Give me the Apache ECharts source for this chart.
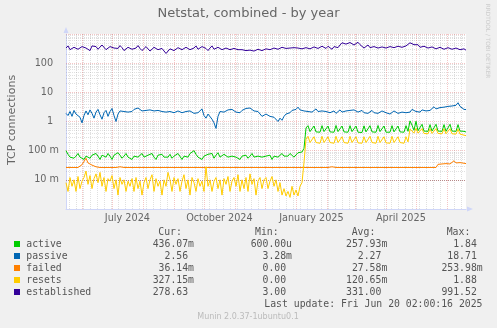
<!DOCTYPE html>
<html>
<head>
<meta charset="utf-8">
<script src="https://cdn.jsdelivr.net/npm/echarts@6/dist/echarts.min.js"></script>
<style>
  html, body { margin: 0; padding: 0; background: #F0F0F0; }
  #chart { width: 497px; height: 328px; }
</style>
</head>
<body>
<div id="chart"></div>
<script>
// Netstat, combined - yearly view, two-day samples from 2024-05-16 to 2025-06-20

const seriesNames = ['active', 'passive', 'failed', 'resets', 'established'];
const seriesColors = ['#00CC00', '#0066B3', '#FF8000', '#FFCC00', '#330099'];

const active = [
  0.1, 0.075, 0.06, 0.07, 0.055, 0.065, 0.08, 0.06, 0.07, 0.05,
  0.065, 0.075, 0.055, 0.07, 0.06, 0.08, 0.065, 0.05, 0.07, 0.075,
  0.06, 0.08, 0.065, 0.05, 0.07, 0.06, 0.085, 0.07, 0.055, 0.065,
  0.08, 0.06, 0.07, 0.05, 0.065, 0.075, 0.06, 0.07, 0.08, 0.06,
  0.055, 0.07, 0.065, 0.08, 0.06, 0.05, 0.07, 0.065, 0.075, 0.06,
  0.07, 0.06, 0.075, 0.055, 0.065, 0.06, 0.08, 0.07, 0.05, 0.065,
  0.07, 0.06, 0.08, 0.085, 0.1, 0.075, 0.06, 0.07, 0.05, 0.065,
  0.06, 0.075, 0.065, 0.08, 0.055, 0.07, 0.085, 0.06, 0.065, 0.075,
  0.07, 0.06, 0.055, 0.065, 0.075, 0.06, 0.07, 0.05, 0.065, 0.06,
  0.07, 0.055, 0.065, 0.08, 0.06, 0.07, 0.065, 0.075, 0.06, 0.065,
  0.065, 0.06, 0.07, 0.05, 0.065, 0.075, 0.06, 0.07, 0.08, 0.065,
  0.07, 0.065, 0.08, 0.075, 0.06, 0.07, 0.085, 0.075, 0.09, 0.12,
  0.6, 0.72, 0.45, 0.42, 0.7, 0.44, 0.41, 0.43, 0.72, 0.45,
  0.42, 0.7, 0.44, 0.41, 0.43, 0.73, 0.45, 0.42, 0.7, 0.44,
  0.41, 0.43, 0.72, 0.45, 0.42, 0.7, 0.43, 0.41, 0.42, 0.71,
  0.44, 0.42, 0.72, 0.44, 0.41, 0.43, 0.73, 0.45, 0.42, 0.7,
  0.43, 0.41, 0.43, 0.72, 0.44, 0.42, 0.7, 0.44, 0.41, 0.43,
  0.72, 0.46, 1.05, 0.75, 0.5, 1.02, 0.48, 0.46, 0.8, 0.47,
  0.45, 0.46, 0.78, 0.47, 0.45, 0.8, 0.47, 0.45, 0.46, 0.78,
  0.46, 0.45, 0.8, 0.47, 0.45, 0.46, 0.78, 0.47, 0.45, 0.46, 0.436
];

const passive = [
  1.9, 1.6, 2.2, 1.5, 2.4, 1.8, 2.1, 1.4, 0.9, 1.6,
  2.3, 1.7, 2.5, 1.9, 1.3, 2.1, 2.6, 1.7, 1.2, 2.0,
  2.4, 1.5, 2.2, 2.8, 1.6, 1.0, 1.8, 2.3, 2.0, 2.2,
  1.9, 2.1, 2.4, 2.2, 2.6, 2.3, 2.9, 2.5, 2.3, 2.6,
  2.4, 2.2, 2.5, 2.7, 2.3, 2.1, 2.4, 2.6, 2.2, 2.0,
  2.1, 1.9, 2.2, 2.3, 2.0, 2.1, 2.3, 2.2, 2.0, 2.1,
  2.2, 2.0, 2.3, 2.1, 1.9, 2.2, 2.0, 2.1, 2.7, 1.6,
  1.3, 1.8, 1.6, 1.2, 0.9, 0.58, 1.5, 2.2, 2.4, 2.1,
  2.3, 2.5, 2.2, 2.6, 2.4, 2.1, 2.3, 2.0, 2.4, 2.7,
  2.8, 2.5, 2.9, 2.6, 2.3, 2.6, 2.2, 2.0, 1.5, 1.7,
  1.8, 1.6, 1.5, 1.7, 1.4, 1.2, 1.0, 1.3, 1.1, 1.5,
  1.8, 2.1, 2.0, 2.4, 2.2, 2.6, 3.1, 2.5, 2.9, 2.3,
  2.6, 2.2, 2.5, 2.1, 2.3, 2.7, 2.2, 2.0, 2.3, 2.1,
  2.2, 2.4, 2.0, 2.1, 2.3, 1.9, 2.2, 2.5, 2.1, 2.0,
  2.3, 2.1, 2.4, 2.2, 2.5, 2.3, 2.1, 2.2, 2.4, 2.0,
  2.3, 1.9, 2.1, 2.4, 2.0, 2.2, 1.9, 2.0, 2.3, 2.1,
  2.0, 2.2, 1.8, 2.1, 2.3, 2.0, 1.9, 2.2, 2.1, 1.9,
  2.0, 2.3, 2.1, 2.6, 2.9, 2.2, 2.4, 2.1, 2.5, 2.2,
  2.3, 2.6, 2.4, 2.8, 3.2, 2.7, 2.5, 3.0, 2.6, 3.1,
  2.8, 3.3, 2.9, 3.4, 3.0, 3.6, 4.4, 3.3, 2.9, 2.6, 2.56
];

const failed = [
  0.0265, 0.0265, 0.0265, 0.0265, 0.0265, 0.0265, 0.0265, 0.03, 0.033, 0.035,
  0.055, 0.038, 0.04, 0.032, 0.036, 0.028, 0.0265, 0.0265, 0.0265, 0.0265,
  0.0265, 0.0265, 0.0265, 0.0265, 0.0265, 0.0265, 0.0265, 0.028, 0.0265, 0.0265,
  0.0265, 0.0265, 0.0265, 0.0265, 0.0265, 0.0265, 0.0265, 0.0265, 0.0265, 0.0265,
  0.0265, 0.0265, 0.0265, 0.0265, 0.0265, 0.0265, 0.028, 0.0265, 0.0265, 0.0265,
  0.0265, 0.0265, 0.0265, 0.0265, 0.0265, 0.0265, 0.0265, 0.0265, 0.0265, 0.0265,
  0.029, 0.0265, 0.0265, 0.0265, 0.0265, 0.0265, 0.0265, 0.0265, 0.0265, 0.0265,
  0.0265, 0.0265, 0.0265, 0.0265, 0.0265, 0.0265, 0.0265, 0.0265, 0.0265, 0.0265,
  0.0265, 0.0265, 0.0265, 0.0265, 0.0265, 0.0265, 0.0265, 0.0265, 0.0265, 0.0265,
  0.0265, 0.0265, 0.0265, 0.0265, 0.0265, 0.0265, 0.0265, 0.0265, 0.0265, 0.0265,
  0.0265, 0.0265, 0.0265, 0.0265, 0.028, 0.0265, 0.0265, 0.0265, 0.0265, 0.0265,
  0.0265, 0.0265, 0.0265, 0.0265, 0.0265, 0.0265, 0.0265, 0.0265, 0.0265, 0.0265,
  0.0265, 0.0265, 0.0265, 0.0265, 0.0265, 0.0265, 0.0265, 0.0265, 0.0265, 0.0265,
  0.0265, 0.0265, 0.0265, 0.028, 0.0265, 0.0265, 0.0265, 0.0265, 0.0265, 0.0265,
  0.0265, 0.0265, 0.0265, 0.0265, 0.0265, 0.0265, 0.0265, 0.0265, 0.0265, 0.0265,
  0.0265, 0.0265, 0.0265, 0.0265, 0.0265, 0.0265, 0.0265, 0.0265, 0.0265, 0.0265,
  0.0265, 0.0265, 0.0265, 0.0265, 0.0265, 0.0265, 0.0265, 0.0265, 0.0265, 0.0265,
  0.0265, 0.0265, 0.0265, 0.0265, 0.0265, 0.0265, 0.0265, 0.0265, 0.0265, 0.0265,
  0.0265, 0.0265, 0.0265, 0.0265, 0.0265, 0.0265, 0.034, 0.036, 0.035, 0.037,
  0.036, 0.038, 0.035, 0.037, 0.045, 0.038, 0.036, 0.039, 0.035, 0.037, 0.036
];

const resets = [
  0.008, 0.004, 0.012, 0.006, 0.01, 0.004, 0.013, 0.005, 0.009, 0.012,
  0.02, 0.007, 0.014, 0.005, 0.011, 0.016, 0.008, 0.018, 0.006, 0.012,
  0.004, 0.011, 0.009, 0.014, 0.005, 0.01, 0.003, 0.012, 0.007, 0.01,
  0.004, 0.009, 0.006, 0.011, 0.004, 0.012, 0.005, 0.009, 0.003, 0.008,
  0.012, 0.005, 0.01, 0.015, 0.004, 0.011, 0.006, 0.009, 0.003, 0.01,
  0.006, 0.018, 0.01, 0.004, 0.012, 0.007, 0.011, 0.004, 0.009, 0.015,
  0.005, 0.01, 0.003, 0.012, 0.008, 0.004, 0.011, 0.006, 0.009, 0.004,
  0.028, 0.006, 0.01, 0.004, 0.009, 0.012, 0.005, 0.01, 0.003, 0.011,
  0.007, 0.013, 0.004, 0.009, 0.012, 0.006, 0.015, 0.004, 0.01, 0.005,
  0.012, 0.004, 0.016, 0.007, 0.011, 0.003, 0.009, 0.012, 0.005, 0.01,
  0.012, 0.005, 0.009, 0.013, 0.006, 0.01, 0.004, 0.008, 0.003, 0.005,
  0.0028, 0.004, 0.0025, 0.006, 0.003, 0.0045, 0.0028, 0.006, 0.008, 0.04,
  0.25, 0.31, 0.19, 0.18, 0.3, 0.19, 0.175, 0.18, 0.31, 0.19,
  0.18, 0.3, 0.19, 0.175, 0.18, 0.31, 0.19, 0.18, 0.3, 0.19,
  0.175, 0.18, 0.31, 0.19, 0.18, 0.3, 0.185, 0.175, 0.18, 0.3,
  0.19, 0.18, 0.31, 0.19, 0.175, 0.18, 0.31, 0.19, 0.18, 0.3,
  0.185, 0.175, 0.18, 0.31, 0.19, 0.18, 0.3, 0.19, 0.175, 0.18,
  0.3, 0.2, 0.55, 0.5, 0.4, 0.58, 0.4, 0.38, 0.57, 0.39,
  0.37, 0.38, 0.56, 0.39, 0.37, 0.57, 0.39, 0.37, 0.38, 0.56,
  0.38, 0.36, 0.56, 0.38, 0.36, 0.37, 0.55, 0.37, 0.35, 0.34, 0.327
];

const established = [
  330, 390, 290, 260, 350, 400, 300, 270, 370, 410,
  330, 290, 270, 390, 430, 370, 300, 330, 420, 390,
  290, 270, 370, 410, 330, 290, 320, 400, 340, 270,
  260, 350, 390, 300, 260, 330, 400, 320, 270, 290,
  370, 330, 260, 270, 350, 390, 290, 250, 320, 290,
  215, 250, 310, 350, 270, 260, 340, 380, 290, 270,
  350, 380, 290, 260, 330, 390, 300, 290, 370, 400,
  320, 270, 330, 390, 300, 270, 350, 380, 290, 260,
  330, 380, 290, 270, 320, 360, 290, 260, 290, 330,
  270, 250, 280, 320, 260, 250, 300, 330, 270, 260,
  310, 340, 290, 270, 330, 360, 300, 290, 350, 370,
  320, 290, 330, 380, 340, 300, 330, 370, 310, 290,
  340, 380, 310, 300, 360, 390, 320, 310, 380, 400,
  320, 380, 330, 300, 370, 400, 340, 420, 500, 530,
  450, 410, 510, 490, 420, 480, 520, 430, 380, 330,
  380, 420, 340, 300, 370, 410, 330, 290, 360, 400,
  330, 300, 370, 410, 340, 310, 380, 420, 350, 320,
  390, 440, 500, 530, 430, 370, 430, 350, 310, 380,
  410, 330, 290, 360, 390, 310, 280, 350, 380, 300,
  270, 340, 370, 300, 260, 330, 360, 290, 270, 310, 279
];

// Legend statistics
const curText = ['436.07m', '2.56', '36.14m', '327.15m', '278.63'];
const minText = ['600.00u', '3.28m', '0.00', '0.00', '3.00'];
const avgText = ['257.93m', '2.27', '27.58m', '120.65m', '331.00'];
const maxText = ['1.84', '18.71', '253.98m', '1.88', '991.52'];

// Axis tick labels
const yTickValues = [0.01, 0.1, 1, 10, 100];
const yTickLabels = ['10 m', '100 m', '1', '10', '100'];
const xTickTimes = [Date.UTC(2024, 6, 16, 12), Date.UTC(2024, 9, 16, 12), Date.UTC(2025, 0, 16, 12), Date.UTC(2025, 3, 16)];
const xTickLabels = ['July 2024', 'October 2024', 'January 2025', 'April 2025'];

const DAY = 86400000;
const T_START = Date.UTC(2024, 4, 16, 2, 0, 16);
const T_END = Date.UTC(2025, 5, 20, 2, 0, 16);
const STEP = 2 * DAY;

const FONT = '"DejaVu Sans", sans-serif';
const MONO = '"DejaVu Sans Mono", monospace';
const TEXT = '#666666';
const AXIS = '#CFD6F8';
const GRID_MINOR = 'rgba(143,143,143,0.28)';
const GRID_MAJOR = 'rgba(222,79,79,0.32)';

function toPairs(arr) {
  return arr.map(function (v, i) { return [T_START + i * STEP, v]; });
}

// Month (major) and week (minor) vertical grid positions
const monthLines = [];
for (let y = 2024, m = 5; ; ) {
  const t = Date.UTC(y, m, 1);
  if (t > T_END) break;
  monthLines.push(t);
  m++; if (m > 11) { m = 0; y++; }
}
const weekLines = [];
for (let t = Date.UTC(2024, 4, 19); t < T_END; t += 7 * DAY) {
  if (monthLines.indexOf(t) < 0) weekLines.push(t);
}
// Decade (major) and 2..9 (minor) horizontal grid positions
const decadeLines = [];
const subDecadeLines = [];
for (let e = -3; e <= 3; e++) decadeLines.push(Math.pow(10, e));
for (let e = -3; e < 3; e++) for (let k = 2; k <= 9; k++) subDecadeLines.push(k * Math.pow(10, e));

const gridMarks = []
  .concat(subDecadeLines.map(function (v) { return { yAxis: v, lineStyle: { color: GRID_MINOR, type: [1, 1], width: 1 } }; }))
  .concat(weekLines.map(function (t) { return { xAxis: t, lineStyle: { color: GRID_MINOR, type: [1, 1], width: 1 } }; }))
  .concat(decadeLines.map(function (v) { return { yAxis: v, lineStyle: { color: GRID_MAJOR, type: [1, 1], width: 1 } }; }))
  .concat(monthLines.map(function (t) { return { xAxis: t, lineStyle: { color: GRID_MAJOR, type: [1, 1], width: 1 } }; }));

const dataSets = [active, passive, failed, resets, established];
const lineSeries = dataSets.map(function (arr, i) {
  return {
    name: seriesNames[i],
    type: 'line',
    data: toPairs(arr),
    showSymbol: false,
    symbol: 'none',
    z: 3,
    lineStyle: { color: seriesColors[i], width: 1 },
    itemStyle: { color: seriesColors[i] },
    animation: false
  };
});

// Legend block (text table)
const legendTop = 244.3;
const rowGap = 12;
const colRight = [194, 292, 387.3, 482.7];
const headerLeft = [158.3, 255, 351.7, 446.7];
const headers = ['Cur:', 'Min:', 'Avg:', 'Max:'];
const graphics = [];

function monoText(x, y, text, align) {
  return {
    type: 'text', x: x, y: y, silent: true,
    style: { text: text, fontFamily: MONO, fontSize: 9.8, fill: '#555555', align: align, verticalAlign: 'middle' }
  };
}

graphics.push({
  type: 'text', x: 248.5, y: 13.5, silent: true,
  style: { text: 'Netstat, combined - by year', fontFamily: FONT, fontSize: 13, fill: TEXT, align: 'center', verticalAlign: 'middle' }
});
graphics.push({
  type: 'text', x: 12, y: 120, rotation: Math.PI / 2, silent: true,
  style: { text: 'TCP connections', fontFamily: FONT, fontSize: 11, fill: TEXT, align: 'center', verticalAlign: 'middle' }
});
graphics.push({
  type: 'text', x: 487.7, y: 41, rotation: -Math.PI / 2, silent: true,
  style: { text: 'RRDTOOL / TOBI OETIKER', fontFamily: FONT, fontSize: 5.8, fill: '#cccccc', align: 'center', verticalAlign: 'middle' }
});
headers.forEach(function (h, j) {
  graphics.push(monoText(headerLeft[j], legendTop - 11.6, h, 'left'));
});
const statCols = [curText, minText, avgText, maxText];
seriesNames.forEach(function (name, i) {
  const y = legendTop + i * rowGap;
  graphics.push({
    type: 'rect', silent: true,
    shape: { x: 14, y: Math.round(y) - 3, width: 6, height: 6 },
    style: { fill: seriesColors[i] }
  });
  graphics.push(monoText(26.3, y, name, 'left'));
  statCols.forEach(function (col, j) {
    const s = col[i];
    const hasUnit = /[a-z]$/.test(s);
    graphics.push(monoText(colRight[j] - (hasUnit ? 0 : 5.9), y, s, 'right'));
  });
});
graphics.push(monoText(482.5, legendTop + 5 * rowGap, 'Last update: Fri Jun 20 02:00:16 2025', 'right'));
graphics.push({
  type: 'text', x: 248, y: 317.3, silent: true,
  style: { text: 'Munin 2.0.37-1ubuntu0.1', fontFamily: FONT, fontSize: 8, fill: '#bbbbbb', align: 'center', verticalAlign: 'middle' }
});

const chart = echarts.init(document.getElementById('chart'), null, { renderer: 'canvas' });
chart.setOption({
  animation: false,
  backgroundColor: '#F0F0F0',
  grid: {
    left: 66, top: 34, width: 400, height: 175,
    show: true, backgroundColor: '#FFFFFF', borderWidth: 0,
    containLabel: false, outerBoundsMode: 'none'
  },
  xAxis: {
    type: 'value',
    min: T_START,
    max: T_END,
    axisLine: {
      show: true, onZero: false,
      lineStyle: { color: AXIS, width: 1 },
      symbol: ['none', 'triangle'], symbolSize: [5, 6], symbolOffset: [0, 4]
    },
    axisTick: { show: false },
    splitLine: { show: false },
    axisLabel: {
      customValues: xTickTimes,
      hideOverlap: false,
      margin: 4,
      color: TEXT,
      fontFamily: FONT,
      fontSize: 9.7,
      formatter: function (v) {
        for (let k = 0; k < xTickTimes.length; k++) {
          if (Math.abs(xTickTimes[k] - v) < 1000) return xTickLabels[k];
        }
        return '';
      }
    }
  },
  yAxis: {
    type: 'log',
    logBase: 10,
    min: 0.001,
    max: 1000,
    axisLine: {
      show: true, onZero: false,
      lineStyle: { color: AXIS, width: 1 },
      symbol: ['none', 'triangle'], symbolSize: [5, 6], symbolOffset: [0, 4]
    },
    axisTick: { show: false },
    splitLine: { show: false },
    axisLabel: {
      margin: 7,
      color: TEXT,
      fontFamily: FONT,
      fontSize: 9.7,
      formatter: function (v) {
        const lv = Math.log10(v);
        for (let k = 0; k < yTickValues.length; k++) {
          if (Math.abs(Math.log10(yTickValues[k]) - lv) < 1e-6) {
            const s = yTickLabels[k];
            return s.indexOf('m') >= 0 ? '{u|' + s + '}' : '{n|' + s + '}';
          }
        }
        return '';
      },
      rich: {
        u: { color: TEXT, fontFamily: FONT, fontSize: 9.7 },
        n: { color: TEXT, fontFamily: FONT, fontSize: 9.7, padding: [0, 5.8, 0, 0] }
      }
    }
  },
  series: [{
    type: 'line',
    name: 'grid',
    data: [],
    silent: true,
    z: 1,
    markLine: {
      silent: true,
      z: 1,
      symbol: ['none', 'none'],
      label: { show: false },
      animation: false,
      data: gridMarks
    }
  }].concat(lineSeries),
  graphic: graphics
});
</script>
</body>
</html>
